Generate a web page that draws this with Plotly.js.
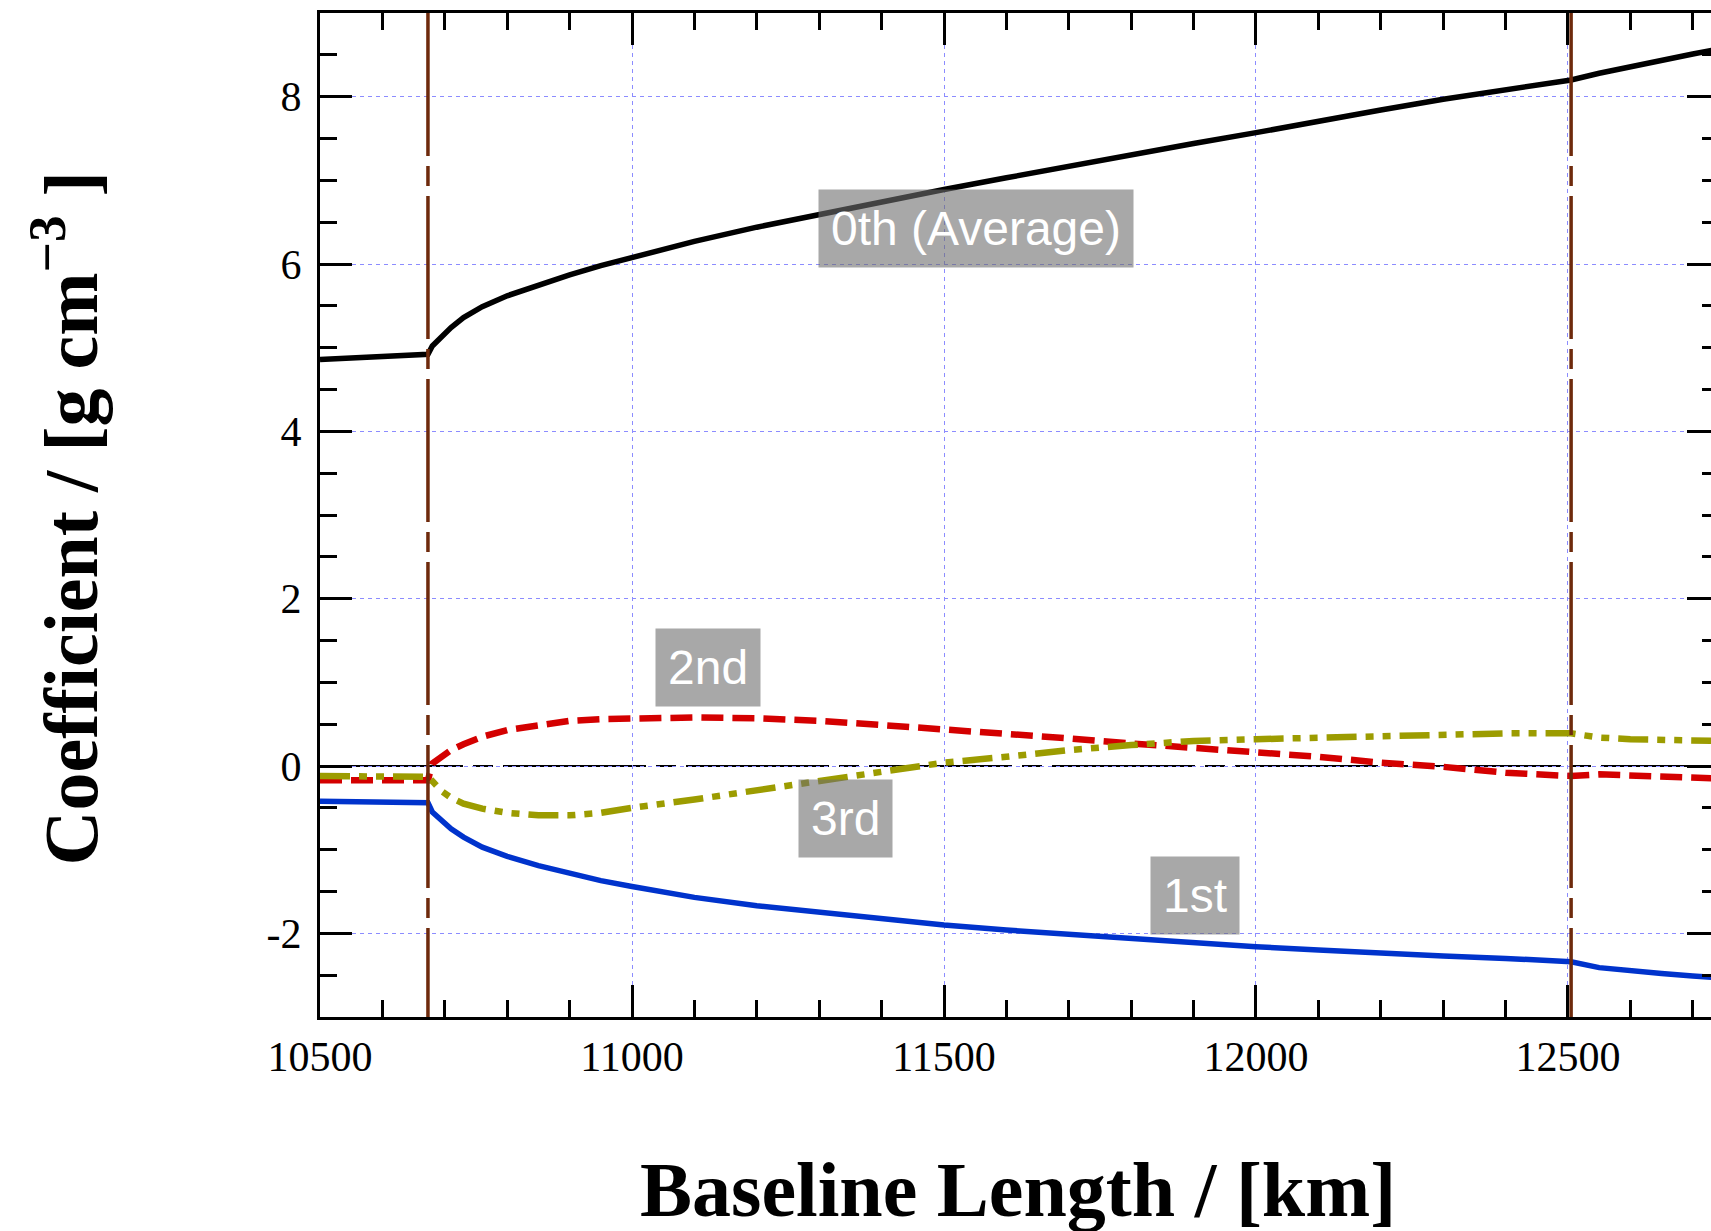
<!DOCTYPE html>
<html><head><meta charset="utf-8">
<script src="https://cdn.plot.ly/plotly-3.0.1.min.js"></script>
<style>html,body{margin:0;padding:0;overflow:hidden;background:#fff}</style>
</head><body><div id="chart" style="width:1730px;height:1231px"></div>
<script>
// Baseline length [km]
const baseline = [10500, 10600, 10673, 10680, 10695, 10710, 10730, 10760, 10800, 10850, 10900, 10950,
  11000, 11100, 11200, 11300, 11400, 11500, 11600, 11700, 11800, 11900, 12000, 12100, 12200, 12300,
  12400, 12505, 12550, 12600, 12650, 12700, 12742];
// 0th (Average)
const coef0 = [4.86, 4.89, 4.92, 5.02, 5.14, 5.24, 5.36, 5.49, 5.62, 5.75, 5.87, 5.98,
  6.08, 6.27, 6.44, 6.59, 6.75, 6.89, 7.03, 7.17, 7.31, 7.44, 7.57, 7.71, 7.84, 7.97,
  8.09, 8.20, 8.28, 8.36, 8.44, 8.51, 8.57];
// 1st
const coef1 = [-0.42, -0.43, -0.44, -0.55, -0.66, -0.75, -0.85, -0.97, -1.08, -1.19, -1.28, -1.37,
  -1.44, -1.57, -1.67, -1.75, -1.83, -1.90, -1.96, -2.01, -2.07, -2.12, -2.16, -2.20, -2.24, -2.27,
  -2.30, -2.34, -2.41, -2.45, -2.48, -2.51, -2.53];
// 2nd
const coef2 = [-0.17, -0.17, -0.17, 0.03, 0.12, 0.19, 0.26, 0.35, 0.43, 0.49, 0.54, 0.56,
  0.57, 0.58, 0.57, 0.54, 0.49, 0.44, 0.39, 0.33, 0.27, 0.22, 0.17, 0.11, 0.04, -0.01,
  -0.08, -0.12, -0.10, -0.11, -0.12, -0.13, -0.15];
// 3rd
const coef3 = [-0.12, -0.12, -0.13, -0.18, -0.30, -0.38, -0.45, -0.51, -0.56, -0.59, -0.59, -0.56,
  -0.50, -0.40, -0.29, -0.17, -0.07, 0.04, 0.11, 0.19, 0.25, 0.30, 0.32, 0.34, 0.36, 0.38,
  0.39, 0.39, 0.34, 0.32, 0.31, 0.30, 0.30];

const boundaries = [10673, 12505];
const xTickVals = [10500, 11000, 11500, 12000, 12500];
const xTickText = ['10500', '11000', '11500', '12000', '12500'];
const yTickVals = [-2, 0, 2, 4, 6, 8];
const yTickText = ['-2', '0', '2', '4', '6', '8'];

const traces = [
  {x: baseline, y: coef0, mode: 'lines', line: {color: '#000000', width: 5.5}},
  {x: baseline, y: coef1, mode: 'lines', line: {color: '#0033cc', width: 5.5}},
  {x: baseline, y: coef2, mode: 'lines', line: {color: '#d40000', width: 6.5, dash: '22px,9px'}},
  {x: baseline, y: coef3, mode: 'lines', line: {color: '#9c9c00', width: 6.5, dash: '30px,9px,8px,9px,8px,9px'}}
];

const serif = 'Liberation Serif, Times New Roman, serif';
const axisCommon = {
  showline: true, linewidth: 3, linecolor: '#000', mirror: 'allticks',
  ticks: 'inside', ticklen: 32, tickwidth: 3, tickcolor: '#000',
  tickmode: 'array', zeroline: false,
  showgrid: true, gridcolor: '#8c8cff', gridwidth: 1, griddash: '4px,4px',
  tickfont: {family: serif, size: 42, color: '#000'}
};

const shapes = [
  {type: 'line', xref: 'paper', yref: 'y', x0: 0, x1: 1, y0: 0, y1: 0, layer: 'between',
   line: {color: '#000', width: 2, dash: '143px,10px,20px,10px'}}
].concat(boundaries.map(b => ({
  type: 'line', xref: 'x', yref: 'paper', x0: b, x1: b, y0: 1, y1: 0, layer: 'above',
  line: {color: '#6e2a0c', width: 3.5, dash: '143px,10px,20px,10px'}
})));

const boxStyle = {showarrow: false, bgcolor: 'rgba(110,110,110,0.6)', borderpad: 12,
  font: {family: 'Liberation Sans, Arial, sans-serif', size: 48, color: '#ffffff'}};

const annotations = [
  Object.assign({text: '0th (Average)', x: 11551, y: 6.42, xref: 'x', yref: 'y'}, boxStyle),
  Object.assign({text: '2nd', x: 11121, y: 1.18, xref: 'x', yref: 'y'}, boxStyle),
  Object.assign({text: '3rd', x: 11342, y: -0.63, xref: 'x', yref: 'y'}, boxStyle),
  Object.assign({text: '1st', x: 11903, y: -1.55, xref: 'x', yref: 'y'}, boxStyle),
  {text: '<b>Baseline Length / [km]</b>', xref: 'paper', yref: 'paper', x: 0.499, y: -0.172,
   xanchor: 'center', yanchor: 'middle', showarrow: false,
   font: {family: serif, size: 78, color: '#000'}},
  {text: '<b>Coefficient / [g cm<sup>−3</sup> ]</b>', xref: 'paper', yref: 'paper', x: -0.182, y: 0.497,
   xanchor: 'center', yanchor: 'middle', textangle: -90, showarrow: false,
   font: {family: serif, size: 76, color: '#000'}}
];

const layout = {
  width: 1730, height: 1231, autosize: false,
  margin: {l: 320, r: 11, t: 13, b: 214, pad: 0},
  paper_bgcolor: '#fff', plot_bgcolor: '#fff', showlegend: false,
  xaxis: Object.assign({}, axisCommon, {
    range: [10500, 12742], tickvals: xTickVals, ticktext: xTickText, ticklabelstandoff: 1,
    minor: {dtick: 100, tick0: 10500, ticks: 'inside', ticklen: 17, tickwidth: 3, tickcolor: '#000', showgrid: false}
  }),
  yaxis: Object.assign({}, axisCommon, {
    range: [-3, 9], tickvals: yTickVals, ticktext: yTickText, ticklabelstandoff: 7,
    minor: {dtick: 0.5, tick0: 0, ticks: 'inside', ticklen: 17, tickwidth: 3, tickcolor: '#000', showgrid: false}
  }),
  shapes: shapes,
  annotations: annotations
};

Plotly.newPlot('chart', traces, layout, {displayModeBar: false, staticPlot: true});
</script></body></html>
